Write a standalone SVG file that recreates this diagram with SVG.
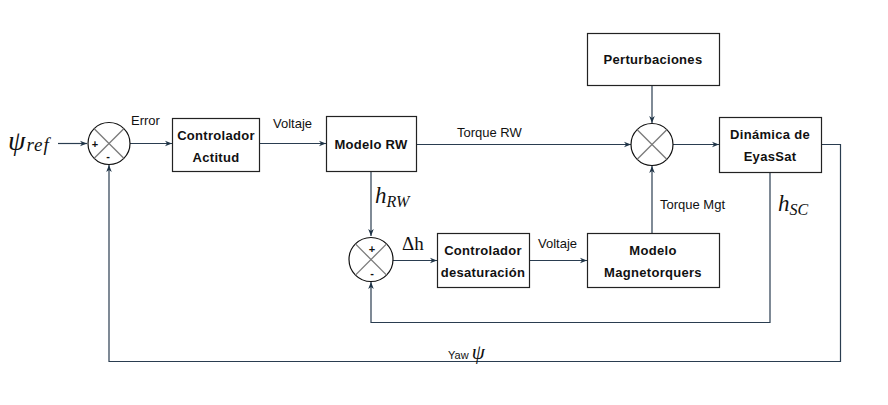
<svg xmlns="http://www.w3.org/2000/svg" width="888" height="405" viewBox="0 0 888 405">
<defs>
<style>
.box{fill:#fff;stroke:#222;stroke-width:1.2}
.lbl{font-family:"Liberation Sans",Arial,sans-serif;font-weight:bold;font-size:13px;letter-spacing:0.3px;fill:#111;text-anchor:middle}
.small{font-family:"Liberation Sans",Arial,sans-serif;font-size:13px;fill:#111}
.math{font-family:"Liberation Serif","DejaVu Serif",serif;font-style:italic;fill:#111}
.ln{fill:none;stroke:#2a3d50;stroke-width:1.2}
.sum{fill:#fff;stroke:#111;stroke-width:1.2}
.x{stroke:#7a7a7a;stroke-width:1.3}
.sg{font-family:"Liberation Sans",Arial,sans-serif;font-weight:bold;font-size:11px;fill:#111;text-anchor:middle}
</style>
<marker id="ah" viewBox="0 0 10 10" refX="10" refY="5" markerWidth="7" markerHeight="7" orient="auto" markerUnits="userSpaceOnUse">
<path d="M0,1 L10,5 L0,9 L3,5 Z" fill="#1f3447"/>
</marker>
</defs>
<rect width="888" height="405" fill="#fff"/>

<g id="connectors">
<path class="ln" d="M58,143.5 H87" marker-end="url(#ah)"/>
<path class="ln" d="M130,143.5 H172" marker-end="url(#ah)"/>
<path class="ln" d="M259,143.5 H326" marker-end="url(#ah)"/>
<path class="ln" d="M416,144.5 H631" marker-end="url(#ah)"/>
<path class="ln" d="M673,144.5 H719" marker-end="url(#ah)"/>
<path class="ln" d="M652,85 V123" marker-end="url(#ah)"/>
<path class="ln" d="M652,233 V166" marker-end="url(#ah)"/>
<path class="ln" d="M371,171 V236" marker-end="url(#ah)"/>
<path class="ln" d="M393,260.5 H437" marker-end="url(#ah)"/>
<path class="ln" d="M529,260.5 H587" marker-end="url(#ah)"/>
<path class="ln" d="M770,172 V322.5 H371 V282" marker-end="url(#ah)"/>
<path class="ln" d="M821,144.5 H840.5 V361.5 H109 V165" marker-end="url(#ah)"/>
</g>

<g id="sum1">
<circle class="sum" cx="109" cy="143.5" r="21"/>
<line class="x" x1="94.2" y1="128.7" x2="123.8" y2="158.3"/>
<line class="x" x1="123.8" y1="128.7" x2="94.2" y2="158.3"/>
<text class="sg" x="95" y="147.5">+</text>
<text class="sg" x="108" y="160">-</text>
</g>

<g id="sum3">
<circle class="sum" cx="652" cy="144.5" r="21"/>
<line class="x" x1="637.2" y1="129.7" x2="666.8" y2="159.3"/>
<line class="x" x1="666.8" y1="129.7" x2="637.2" y2="159.3"/>
</g>

<g id="sum2">
<circle class="sum" cx="371" cy="259.5" r="22"/>
<line class="x" x1="355.4" y1="243.9" x2="386.6" y2="275.1"/>
<line class="x" x1="386.6" y1="243.9" x2="355.4" y2="275.1"/>
<text class="sg" x="372" y="253">+</text>
<text class="sg" x="372" y="277">-</text>
</g>

<g id="controlador-actitud">
<rect class="box" x="172.5" y="118.5" width="87" height="53"/>
<text class="lbl" x="216" y="140">Controlador</text>
<text class="lbl" x="216" y="162">Actitud</text>
</g>

<g id="modelo-rw">
<rect class="box" x="326.5" y="116.5" width="90" height="55"/>
<text class="lbl" x="371" y="148.5">Modelo RW</text>
</g>

<g id="perturbaciones">
<rect class="box" x="587.5" y="33.5" width="132" height="52"/>
<text class="lbl" x="653" y="64">Perturbaciones</text>
</g>

<g id="dinamica">
<rect class="box" x="719.5" y="117.5" width="102" height="55"/>
<text class="lbl" x="770" y="139">Dinámica de</text>
<text class="lbl" x="770" y="161">EyasSat</text>
</g>

<g id="controlador-desaturacion">
<rect class="box" x="437.5" y="233.5" width="92" height="54"/>
<text class="lbl" x="483" y="255">Controlador</text>
<text class="lbl" x="483" y="277">desaturación</text>
</g>

<g id="modelo-magnetorquers">
<rect class="box" x="587.5" y="233.5" width="132" height="54"/>
<text class="lbl" x="653" y="255">Modelo</text>
<text class="lbl" x="653" y="277">Magnetorquers</text>
</g>

<g id="labels">
<text class="math" x="8" y="150" font-size="28">ψ<tspan font-size="19" dx="1" dy="1" letter-spacing="1">ref</tspan></text>
<text class="small" x="131" y="125">Error</text>
<text class="small" x="273" y="128">Voltaje</text>
<text class="small" x="457" y="137">Torque RW</text>
<text class="small" x="660" y="209">Torque Mgt</text>
<text class="small" x="538" y="248">Voltaje</text>
<text x="402" y="250" font-family="Liberation Serif,'DejaVu Serif',serif" font-size="19" fill="#111">Δh</text>
<text class="math" x="375" y="203" font-size="23">h<tspan font-size="16" dy="4">RW</tspan></text>
<text class="math" x="778" y="211" font-size="23">h<tspan font-size="16" dy="4">SC</tspan></text>
<text x="448" y="359" font-family="Liberation Sans Narrow,Liberation Sans,Arial,sans-serif" font-size="11" fill="#111">Yaw <tspan class="math" font-size="21">ψ</tspan></text>
</g>
</svg>
